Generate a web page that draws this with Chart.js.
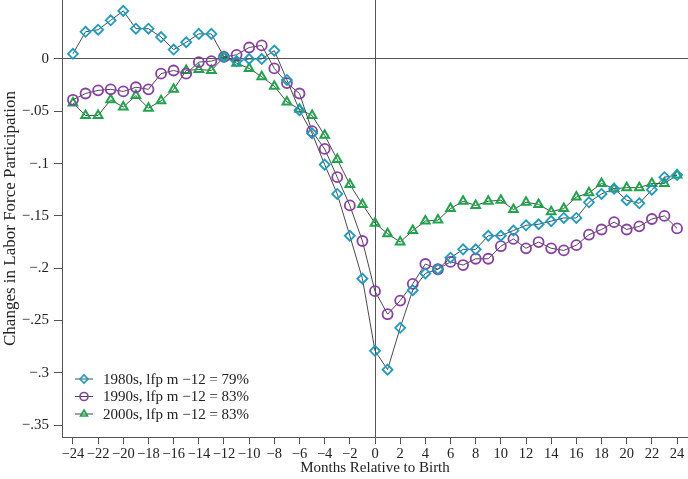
<!DOCTYPE html>
<html>
<head>
<meta charset="utf-8">
<script src="https://cdn.jsdelivr.net/npm/chart.js@4/dist/chart.umd.min.js"></script>
<style>
  body { margin: 0; background: #fff; }
  canvas { display: block; }
</style>
</head>
<body>
<canvas id="lfp-chart" width="688" height="479"></canvas>
<script>
// Months relative to birth
const months = [
  -24, -23, -22, -21, -20, -19, -18, -17, -16, -15, -14, -13, -12,
  -11, -10, -9, -8, -7, -6, -5, -4, -3, -2, -1, 0,
  1, 2, 3, 4, 5, 6, 7, 8, 9, 10, 11, 12,
  13, 14, 15, 16, 17, 18, 19, 20, 21, 22, 23, 24,
];

// 1980s, lfp m -12 = 79%
const lfp1980s = [
  0.005, 0.026, 0.028, 0.037, 0.046, 0.029, 0.029, 0.021, 0.009, 0.016, 0.024, 0.024, 0.002,
  -0.002, 0.0, 0.0, 0.008, -0.020, -0.049, -0.071, -0.101, -0.129, -0.169, -0.210, -0.279,
  -0.297, -0.257, -0.221, -0.205, -0.201, -0.190, -0.182, -0.182, -0.169, -0.169, -0.164, -0.159,
  -0.158, -0.155, -0.152, -0.152, -0.137, -0.129, -0.124, -0.135, -0.138, -0.125, -0.113, -0.111,
];

// 1990s, lfp m -12 = 83%
const lfp1990s = [
  -0.039, -0.033, -0.030, -0.029, -0.031, -0.027, -0.029, -0.014, -0.011, -0.014, -0.003, -0.002, 0.002,
  0.004, 0.011, 0.013, -0.009, -0.023, -0.033, -0.069, -0.086, -0.113, -0.140, -0.174, -0.222,
  -0.244, -0.231, -0.215, -0.196, -0.201, -0.194, -0.197, -0.191, -0.191, -0.179, -0.172, -0.181,
  -0.175, -0.181, -0.183, -0.178, -0.168, -0.163, -0.156, -0.163, -0.160, -0.153, -0.150, -0.162,
];

// 2000s, lfp m -12 = 83%
const lfp2000s = [
  -0.042, -0.054, -0.054, -0.039, -0.046, -0.035, -0.047, -0.040, -0.029, -0.011, -0.010, -0.011, 0.002,
  -0.004, -0.009, -0.017, -0.026, -0.041, -0.048, -0.054, -0.073, -0.096, -0.120, -0.139, -0.157,
  -0.167, -0.175, -0.164, -0.155, -0.154, -0.143, -0.136, -0.140, -0.136, -0.135, -0.144, -0.137,
  -0.139, -0.146, -0.143, -0.132, -0.128, -0.119, -0.124, -0.123, -0.123, -0.119, -0.119, -0.111,
];

const seriesLabels = [
  "1980s, lfp m \u221212 = 79%",
  "1990s, lfp m \u221212 = 83%",
  "2000s, lfp m \u221212 = 83%",
];

// tick values and their labels
const xTicks = [-24, -22, -20, -18, -16, -14, -12, -10, -8, -6, -4, -2, 0, 2, 4, 6, 8, 10, 12, 14, 16, 18, 20, 22, 24];
const xTickLabels = xTicks.map((v) => (v < 0 ? "\u2212" + Math.abs(v) : String(v)));
const yTicks = [0, -0.05, -0.1, -0.15, -0.2, -0.25, -0.3, -0.35];
const yTickLabels = ["0", "\u2212.05", "\u2212.1", "\u2212.15", "\u2212.2", "\u2212.25", "\u2212.3", "\u2212.35"];

const FONT = '"Liberation Serif", "DejaVu Serif", serif';
const AXIS = "#555555";
const LINE = "#4a4a4a";

function toPoints(values) {
  return months.map((m, i) => ({ x: m, y: values[i] }));
}

// no extra room for overhanging labels, plot fills to the edges
function noPadding(scale) {
  scale.paddingLeft = 0;
  scale.paddingRight = 0;
  scale.paddingTop = 0;
  scale.paddingBottom = 0;
}

// legend drawn inside the plot, lower left
const insideLegend = {
  id: "insideLegend",
  afterDraw(chart) {
    const { ctx, chartArea } = chart;
    ctx.save();
    chart.data.datasets.forEach((ds, i) => {
      const y = chartArea.bottom - 58 + i * 17.5;
      const x0 = chartArea.left + 13;
      ctx.strokeStyle = LINE;
      ctx.lineWidth = 1;
      ctx.beginPath();
      ctx.moveTo(x0, y);
      ctx.lineTo(x0 + 18, y);
      ctx.stroke();

      ctx.strokeStyle = ds.pointBorderColor;
      ctx.fillStyle = "rgba(0,0,0,0)";
      ctx.lineWidth = 1.6;
      Chart.helpers.drawPoint(ctx, {
        pointStyle: ds.pointStyle,
        radius: ds.pointRadius - 1,
        rotation: 0,
        borderWidth: 1.6,
      }, x0 + 9, y);

      ctx.fillStyle = "#222";
      ctx.font = "15px " + FONT;
      ctx.textBaseline = "middle";
      ctx.textAlign = "left";
      ctx.fillText(ds.label, x0 + 28, y + 1);
    });
    ctx.restore();
  },
};

const context = document.getElementById("lfp-chart").getContext("2d");

const chart = new Chart(context, {
  type: "line",
  data: {
    datasets: [
      {
        label: seriesLabels[0],
        data: toPoints(lfp1980s),
        borderColor: LINE,
        borderWidth: 1,
        pointStyle: "rectRot",
        pointRadius: 5,
        pointBorderColor: "#1b9dc2",
        pointBackgroundColor: "rgba(0,0,0,0)",
        pointBorderWidth: 1.8,
        tension: 0,
      },
      {
        label: seriesLabels[1],
        data: toPoints(lfp1990s),
        borderColor: LINE,
        borderWidth: 1,
        pointStyle: "circle",
        pointRadius: 5,
        pointBorderColor: "#8a3fa6",
        pointBackgroundColor: "rgba(0,0,0,0)",
        pointBorderWidth: 1.8,
        tension: 0,
      },
      {
        label: seriesLabels[2],
        data: toPoints(lfp2000s),
        borderColor: LINE,
        borderWidth: 1,
        pointStyle: "triangle",
        pointRadius: 5,
        pointBorderColor: "#1ca64a",
        pointBackgroundColor: "rgba(0,0,0,0)",
        pointBorderWidth: 2,
        tension: 0,
      },
    ],
  },
  options: {
    responsive: false,
    animation: false,
    layout: { padding: 0, autoPadding: false },
    plugins: {
      legend: { display: false },
      tooltip: { enabled: false },
    },
    scales: {
      x: {
        type: "linear",
        min: -24.87,
        max: 24.87,
        afterBuildTicks: (scale) => {
          scale.ticks = xTicks.map((v) => ({ value: v }));
        },
        afterFit: (scale) => {
          scale.height = 42;
          noPadding(scale);
        },
        ticks: {
          autoSkip: false,
          maxRotation: 0,
          padding: 1,
          color: "#222",
          font: { family: FONT, size: 14.5 },
          callback: (v, i) => xTickLabels[i],
        },
        grid: {
          color: (c) => (c.tick && c.tick.value === 0 ? AXIS : "rgba(0,0,0,0)"),
          tickColor: AXIS,
          tickLength: 7,
          lineWidth: 1,
        },
        border: { display: true, color: AXIS, width: 1 },
        title: {
          display: true,
          text: "Months Relative to Birth",
          color: "#222",
          font: { family: FONT, size: 15 },
          padding: { top: 2, bottom: 2 },
        },
      },
      y: {
        min: -0.3614,
        max: 0.0564,
        afterBuildTicks: (scale) => {
          scale.ticks = yTicks.map((v) => ({ value: v }));
        },
        afterFit: (scale) => {
          scale.width = 62;
          noPadding(scale);
        },
        ticks: {
          autoSkip: false,
          padding: 5,
          color: "#222",
          font: { family: FONT, size: 15 },
          callback: (v, i) => yTickLabels[i],
        },
        grid: {
          color: (c) => (c.tick && c.tick.value === 0 ? AXIS : "rgba(0,0,0,0)"),
          tickColor: AXIS,
          tickLength: 8,
          lineWidth: 1,
        },
        border: { display: true, color: AXIS, width: 1 },
        title: {
          display: true,
          text: "Changes in Labor Force Participation",
          color: "#222",
          font: { family: FONT, size: 17 },
          padding: { top: 0, bottom: 0 },
        },
      },
    },
  },
  plugins: [insideLegend],
});
</script>
</body>
</html>
